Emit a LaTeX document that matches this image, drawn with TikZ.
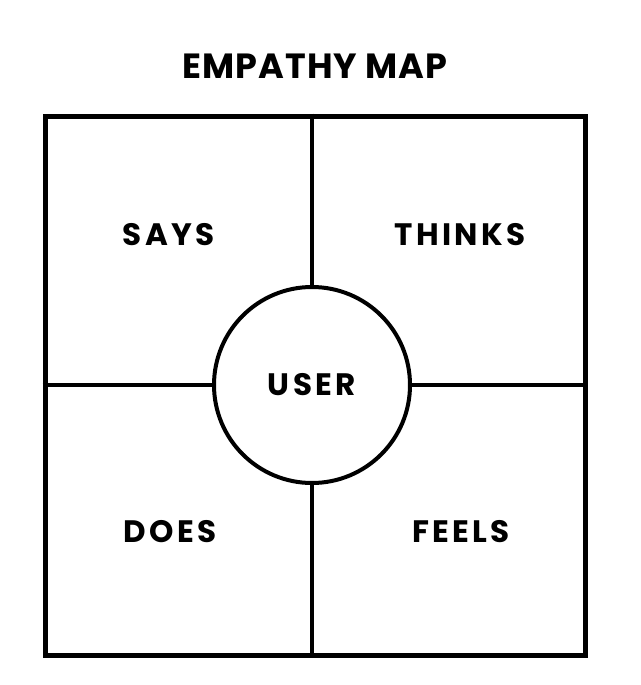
\documentclass[tikz,border=0pt]{standalone}
\usepackage{fontspec}
\setmainfont{Poppins}
\newfontfamily\titlefont[LetterSpace=3]{Poppins}
\newfontfamily\quadfont[LetterSpace=11]{Poppins}
\usepackage{tikz}
\usetikzlibrary{positioning, calc}
\tikzset{
  % outer frame of the map
  mapframe/.style={
    rectangle, draw=black, line width=5pt,
    minimum width=540pt, minimum height=539pt, inner sep=0pt,
  },
  % centre circle
  usercircle/.style={
    circle, draw=black, fill=white, line width=4pt,
    minimum size=196pt, inner sep=0pt,
  },
  % quadrant dividers
  divider/.style={line width=4pt, black},
  % quadrant labels
  quadlabel/.style={font=\quadfont\bfseries\fontsize{31}{31}\selectfont, text=black},
  maptitle/.style={font=\titlefont\bfseries\fontsize{35}{35}\selectfont, text=black},
}
\begin{document}
\begin{tikzpicture}[x=1pt, y=-1pt]

  \useasboundingbox (0,0) rectangle (640,685);

  % Frame and title
  \node[mapframe] (map) at (315,385.5) {};
  \node[maptitle, above=31pt of map.north] (title) {EMPATHY MAP};

  % Circle and dividers
  \node[usercircle] (user) at (312,385) {};
  \draw[divider] (map.north -| user.center) -- (user.north);
  \draw[divider] (user.south) -- (map.south -| user.center);
  \draw[divider] (map.west |- user.center) -- (user.west);
  \draw[divider] (user.east) -- (map.east |- user.center);
  \node[quadlabel] (userlbl) at (user) {USER};

  % Quadrants
  \node[quadlabel] (says) at (169,235) {SAYS};
  \node[quadlabel] (thinks) at (460,235) {THINKS};
  \node[quadlabel] (does) at (170,532) {DOES};
  \node[quadlabel] (feels) at (461,532) {FEELS};

\end{tikzpicture}
\end{document}
